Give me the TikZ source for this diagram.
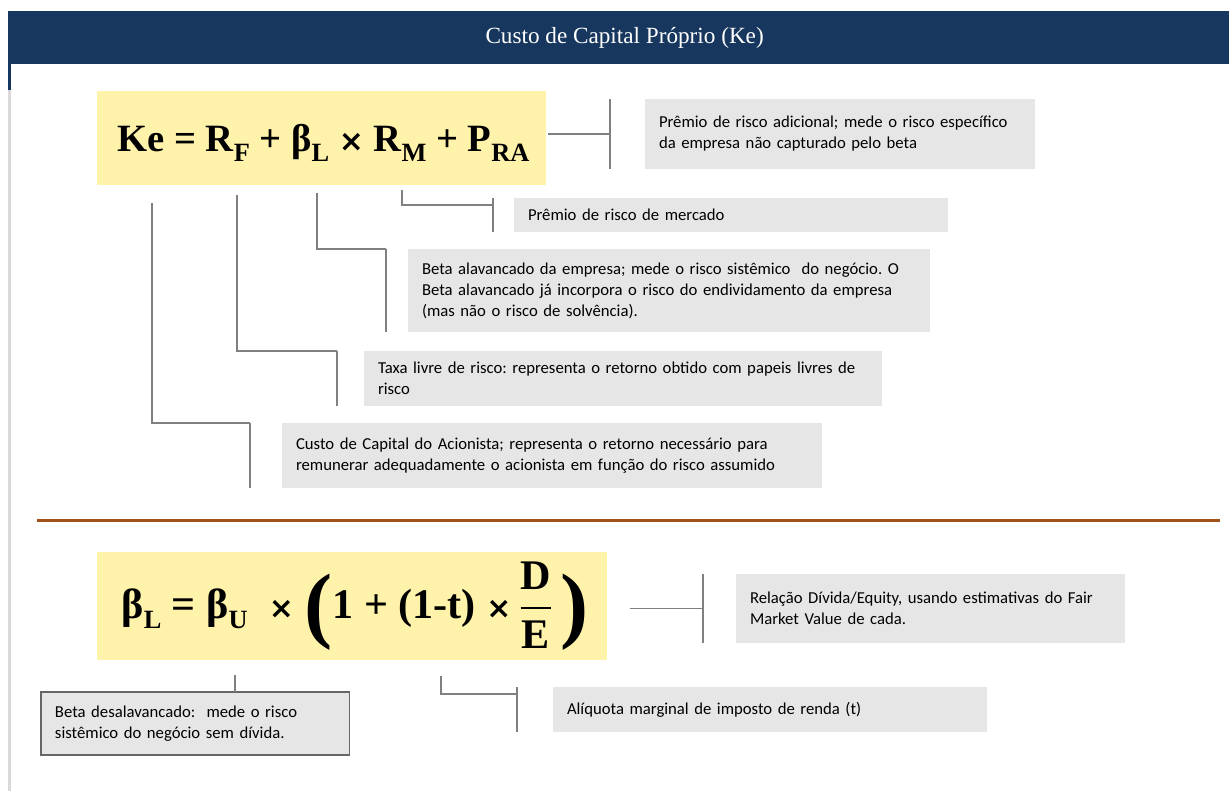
\documentclass[tikz,border=0pt]{standalone}
\usepackage{fontspec}
\usepackage{amsmath}
\setmainfont{Liberation Serif}
\newfontfamily\notefont{Carlito}
\newfontfamily\crossfont{DejaVu Sans}
\usetikzlibrary{positioning,calc}
\definecolor{kenavy}{HTML}{17375E}
\definecolor{keyellow}{HTML}{FFF2AB}
\definecolor{notegray}{HTML}{E7E6E6}
\definecolor{linegray}{HTML}{808080}
\definecolor{stripgray}{HTML}{D9D9D9}
\definecolor{rulebrown}{HTML}{A0521A}
\newcommand{\lowidx}[1]{\raisebox{-0.24em}{\fontsize{15}{15}\selectfont #1}}
\newcommand{\xsign}{{\crossfont\bfseries\fontsize{17}{17}\selectfont ×}}
\newcommand{\bigparen}[1]{\raisebox{-8pt}{\fontsize{48}{48}\selectfont #1}}
\frenchspacing

\begin{document}
\begin{tikzpicture}[x=0.02cm, y=-0.02cm,
  every node/.style={inner sep=0pt, outer sep=0pt},
  formula/.style={fill=keyellow, anchor=north west, align=center, font=\bfseries\fontsize{22}{26}\selectfont},
  note/.style={fill=notegray, anchor=north west, align=left, inner xsep=0.28cm, font=\notefont\fontsize{9.5}{11.9}\selectfont},
  link/.style={draw=linegray, line width=0.6pt}
]
\useasboundingbox (0,0) rectangle (1229,791);

% title bar and left strip
\node[fill=kenavy, anchor=north west, minimum width=24.42cm, minimum height=1.06cm, text=white, font=\fontsize{13.2}{15}\selectfont] (title) at (8,11) {\hspace*{0.25cm}Custo de Capital Próprio (Ke)\raisebox{0pt}[0pt][2pt]{}};
\fill[stripgray] (8,64) rectangle (11,791);
\fill[kenavy] (8,64) rectangle (11,90);

% Ke formula
\node[formula, minimum width=8.98cm, minimum height=1.88cm] (keform) at (97,91)
  {\hspace*{0.08cm}\rule{0pt}{21pt}Ke = R\lowidx{F} + β\lowidx{L} \xsign{} R\lowidx{M} + P\lowidx{RA}};

\node[note, text width=7.24cm, minimum height=1.4cm] (pra) at (645,99) {Prêmio de risco adicional; mede o risco específico\\da empresa não capturado pelo beta};
\node[note, text width=8.12cm, minimum height=0.68cm] (prm) at (514,198) {Prêmio de risco de mercado};
\node[note, text width=9.88cm, minimum height=1.66cm] (bl) at (408,249) {Beta alavancado da empresa; mede o risco sistêmico\ \ do negócio. O\\Beta alavancado já incorpora o risco do endividamento da empresa\\(mas não o risco de solvência).};
\node[note, text width=9.80cm, minimum height=1.10cm] (rf) at (364,351) {Taxa livre de risco: representa o retorno obtido com papeis livres de\\risco};
\node[note, text width=10.24cm, minimum height=1.30cm] (ke) at (282,423) {Custo de Capital do Acionista; representa o retorno necessário para\\remunerar adequadamente o acionista em função do risco assumido};

% separator
\draw[rulebrown, line width=0.06cm] (37,520) -- (1220,520);

% beta formula
\node[formula, font=\bfseries\fontsize{24}{28}\selectfont, minimum width=10.2cm, minimum height=2.16cm] (betaform) at (97,552)
  {\hspace*{0.12cm}β\lowidx{L} = β\lowidx{U}\ \ \xsign\ \bigparen{(}1 + (1-t) \xsign\,$\dfrac{\text{D}}{\text{E}}$\,\bigparen{)}};

\node[note, text width=7.22cm, minimum height=1.38cm] (de) at (736,574) {Relação Dívida/Equity, usando estimativas do Fair\\Market Value de cada.};
\node[note, draw=linegray!80!black, line width=0.6pt, text width=5.62cm, minimum height=1.26cm] (bu) at (41,692) {Beta desalavancado:\ \ mede o risco\\sistêmico do negócio sem dívida.};
\node[note, text width=8.12cm, minimum height=0.90cm] (tx) at (553,687) {Alíquota marginal de imposto de renda (t)};

% bars beside the notes
\foreach \n/\d in {pra/35,prm/21,bl/22,rf/27,ke/32,de/33,tx/36}
  \draw[link] ($(\n.north west)+(-\d,0)$) coordinate (\n-bt) -- ($(\n.south west)+(-\d,0)$);

% points under the terms
\coordinate (atPRA) at (548,134);
\coordinate (atRM) at (402,190);
\coordinate (atBL) at (317,193);
\coordinate (atRF) at (237,195);
\coordinate (atKE) at (152,203);
\coordinate (atDE) at (630,606);
\coordinate (atBU) at (235,675);
\coordinate (atT) at (441,676);

\draw[link] (atPRA |- pra.west) -- (pra-bt |- pra.west);
\draw[link] (atRM) |- ($(prm-bt)+(0,7)$);
\draw[link] (atBL) |- (bl-bt);
\draw[link] (atRF) |- (rf-bt);
\draw[link] (atKE) |- (ke-bt);
\draw[link] (atDE |- de.west) -- (de-bt |- de.west);
\draw[link] (atBU) -- (atBU |- bu.north);
\draw[link] (atT) |- ($(tx-bt)+(0,7)$);
\end{tikzpicture}
\end{document}
